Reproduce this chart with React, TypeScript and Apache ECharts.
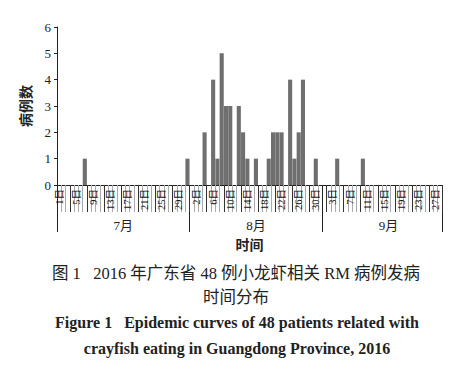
import React, { useEffect, useRef } from "react";
import * as echarts from "echarts";

const monthNames = ["7月", "8月", "9月"];
const monthLengths = [31, 31, 28];
const julyCases = [0,0,0,0,0,0,1,0,0,0,0,0,0,0,0,0,0,0,0,0,0,0,0,0,0,0,0,0,0,0,1];
const augCases = [0,0,0,2,0,4,1,5,3,3,0,3,2,1,0,1,0,0,1,2,2,2,0,4,1,2,4,0,0,1,0];
const sepCases = [0,0,0,1,0,0,0,0,0,1,0,0,0,0,0,0,0,0,0,0,0,0,0,0,0,0,0,0];
const yTicks = [0, 1, 2, 3, 4, 5, 6];
const captionCN1 = "图 1   2016 年广东省 48 例小龙虾相关 RM 病例发病";
const captionCN2 = "时间分布";
const captionEN1 = "Figure 1   Epidemic curves of 48 patients related with";
const captionEN2 = "crayfish eating in Guangdong Province, 2016";

const FONT = "'Liberation Serif', 'Noto Sans CJK SC', serif";

export default function App() {
  const ref = useRef<HTMLDivElement>(null);
  useEffect(() => {
    if (!ref.current) return;
    const chart = echarts.init(ref.current, null, { renderer: "svg" });
    const dayLabels: string[] = [];
    const monthCats: string[] = [];
    const monthStarts: number[] = [];
    const monthMids: number[] = [];
    let pos = 0;
    monthLengths.forEach((len, m) => {
      monthStarts.push(pos);
      monthMids.push(pos + 15);
      for (let d = 1; d <= len; d++) {
        dayLabels.push(d + "日");
        monthCats.push(monthNames[m]);
      }
      pos += len;
    });
    const cases = [...julyCases, ...augCases, ...sepCases];

    chart.setOption({
      animation: false,
      grid: { left: 57, right: 12, top: 27, bottom: 181 },
      xAxis: [
        {
          type: "category",
          data: dayLabels,
          boundaryGap: true,
          axisLine: { show: true, lineStyle: { color: "#222", width: 1 } },
          axisTick: { show: true, interval: 0, length: 27, lineStyle: { color: "#aaa", width: 1 } },
          axisLabel: {
            interval: 3,
            rotate: 90,
            margin: 4,
            fontSize: 10.5,
            color: "#111",
            fontFamily: FONT,
          },
        },
        {
          type: "category",
          data: monthCats,
          boundaryGap: true,
          position: "bottom",
          axisLine: { show: false },
          axisTick: {
            show: true,
            interval: (i: number) => monthStarts.indexOf(i) >= 0,
            length: 47,
            lineStyle: { color: "#222", width: 1 },
          },
          axisLabel: {
            interval: (i: number) => monthMids.indexOf(i) >= 0,
            margin: 34,
            fontSize: 13,
            color: "#222",
            fontFamily: FONT,
          },
          name: "时间",
          nameLocation: "middle",
          nameGap: 53,
          nameTextStyle: { fontSize: 14, fontWeight: "bold", color: "#222", fontFamily: FONT },
        },
        {
          type: "category",
          data: dayLabels,
          boundaryGap: true,
          position: "bottom",
          axisLine: { show: false },
          axisTick: {
            show: true,
            interval: (i: number) => i % 4 === 3,
            length: 27,
            lineStyle: { color: "#333", width: 1 },
          },
          axisLabel: { show: false },
        },
      ],
      yAxis: {
        type: "value",
        min: yTicks[0],
        max: yTicks[yTicks.length - 1],
        interval: 1,
        splitLine: { show: false },
        axisLine: { show: true, lineStyle: { color: "#222", width: 1 } },
        axisTick: { show: true, length: 3, lineStyle: { color: "#222" } },
        axisLabel: { fontSize: 13, color: "#222", margin: 6, fontFamily: FONT },
        name: "病例数",
        nameLocation: "middle",
        nameRotate: 90,
        nameGap: 20,
        nameTextStyle: { fontSize: 14, fontWeight: "bold", color: "#222", fontFamily: FONT },
      },
      series: [
        {
          type: "bar",
          xAxisIndex: 0,
          data: cases,
          barCategoryGap: "4%",
          itemStyle: { color: "#6f6f6f" },
        },
      ],
      graphic: [
        {
          type: "text",
          x: 236,
          y: 273,
          style: {
            text: captionCN1,
            fontSize: 16.5,
            fontFamily: FONT,
            fill: "#222",
            align: "center",
            verticalAlign: "middle",
          },
        },
        {
          type: "text",
          x: 236,
          y: 297,
          style: {
            text: captionCN2,
            fontSize: 16.5,
            fontFamily: FONT,
            fill: "#222",
            align: "center",
            verticalAlign: "middle",
          },
        },
        {
          type: "text",
          x: 237,
          y: 322,
          style: {
            text: captionEN1,
            fontSize: 16,
            fontWeight: "bold",
            fontFamily: FONT,
            fill: "#222",
            align: "center",
            verticalAlign: "middle",
          },
        },
        {
          type: "text",
          x: 237,
          y: 348,
          style: {
            text: captionEN2,
            fontSize: 16,
            fontWeight: "bold",
            fontFamily: FONT,
            fill: "#222",
            align: "center",
            verticalAlign: "middle",
          },
        },
      ],
    });
    return () => chart.dispose();
  }, []);
  return (
    <div
      ref={ref}
      style={{ position: "fixed", left: 0, top: 0, width: 454, height: 366, background: "#fff" }}
    />
  );
}
